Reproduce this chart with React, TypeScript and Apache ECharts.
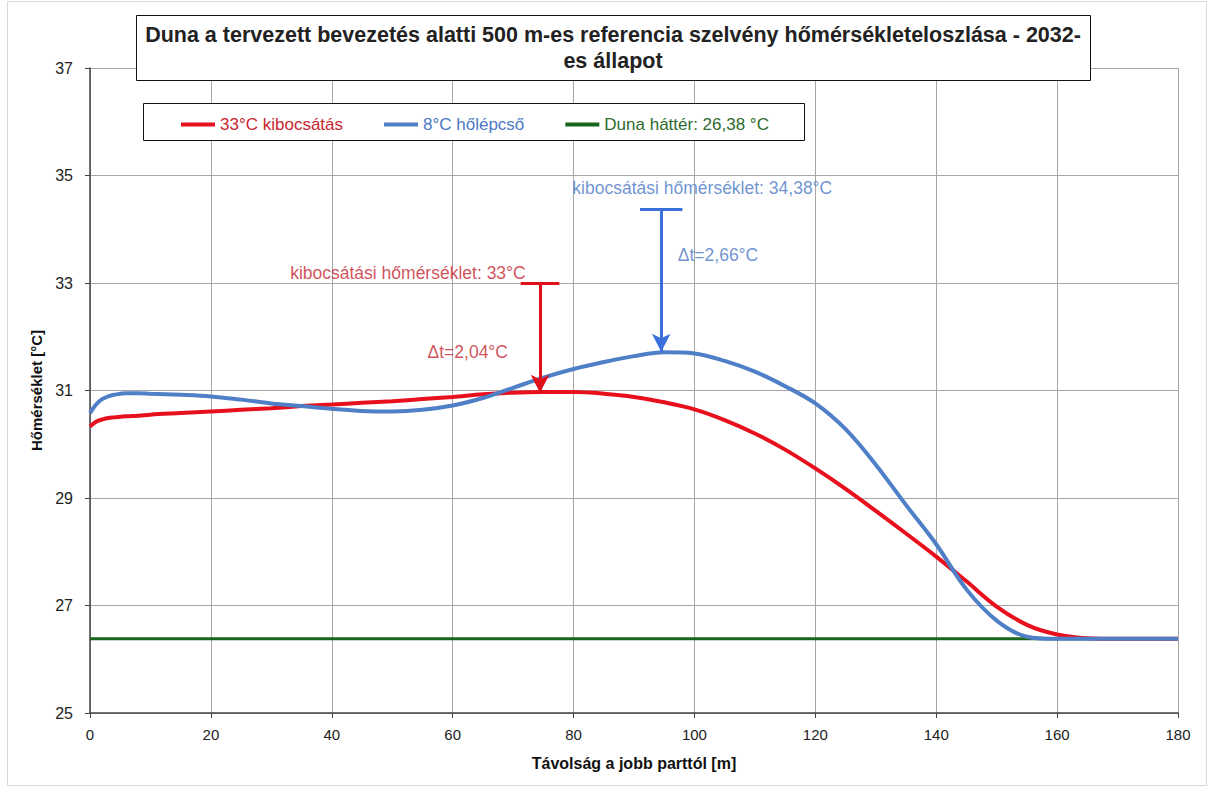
import { useEffect, useRef } from "react";
import * as echarts from "echarts";

// Distance from the right bank [m]
const distances = [
  0, 1, 2, 3, 4, 6, 8, 10, 15, 20, 25, 30, 35, 40, 45, 50, 55, 60, 65, 70, 75,
  80, 85, 90, 95, 100, 105, 110, 115, 120, 125, 130, 135, 140, 145, 150, 155,
  160, 165, 170, 175, 180,
];

// 33 °C discharge temperature profile [°C]
const discharge33 = [
  30.33, 30.42, 30.46, 30.49, 30.5, 30.52, 30.53, 30.55, 30.58, 30.61, 30.64,
  30.67, 30.71, 30.74, 30.77, 30.8, 30.84, 30.88, 30.93, 30.96, 30.97, 30.97,
  30.94, 30.88, 30.78, 30.65, 30.45, 30.2, 29.9, 29.55, 29.17, 28.76, 28.34,
  27.91, 27.45, 26.98, 26.64, 26.46, 26.39, 26.38, 26.38, 26.38,
];

// 8 °C temperature step profile [°C]
const step8 = [
  30.58, 30.74, 30.84, 30.89, 30.92, 30.95, 30.95, 30.94, 30.92, 30.89, 30.83,
  30.76, 30.71, 30.66, 30.62, 30.61, 30.64, 30.72, 30.86, 31.05, 31.24, 31.4,
  31.53, 31.64, 31.71, 31.69, 31.55, 31.35, 31.08, 30.76, 30.28, 29.62, 28.87,
  28.14, 27.3, 26.72, 26.42, 26.38, 26.38, 26.38, 26.38, 26.38,
];

// Danube background temperature [°C]
const backgroundTemp = 26.38;

const yTicks = [25, 27, 29, 31, 33, 35, 37];

// Discharge temperatures and resulting rise at the marked positions
const redOutlet = 33;
const redDelta = 2.04;
const redAt = 74.45;
const blueOutlet = 34.38;
const blueDelta = 2.66;
const blueAt = 94.5;

const RED = "#e8101c";
const BLUE = "#4f7fc6";
const GREEN = "#17661a";
const RED_TEXT = "#c62630";
const BLUE_TEXT = "#4a78c6";
const FONT = "'Liberation Sans', Arial, sans-serif";

const huNum = (v: number) => String(v).replace(".", ",");

export default function App() {
  const ref = useRef<HTMLDivElement>(null);

  useEffect(() => {
    document.body.style.margin = "0";
    const chart = echarts.init(ref.current!, null, { renderer: "svg" });

    const pair = (vals: number[]) => distances.map((d, i) => [d, vals[i]]);

    const arrow = (x: number, top: number, bottom: number, capHalf: number, color: string) => ({
      silent: true,
      animation: false,
      label: { show: false },
      lineStyle: { color, width: 3, type: "solid" },
      data: [
        [
          { coord: [x, top], symbol: "none" },
          { coord: [x, bottom], symbol: "arrow", symbolSize: [14, 18] },
        ],
        [
          { coord: [x - capHalf, top], symbol: "none" },
          { coord: [x + capHalf, top], symbol: "none" },
        ],
      ],
    });

    chart.setOption({
      animation: false,
      textStyle: { fontFamily: FONT },
      grid: { left: 90, right: 39, top: 68, bottom: 79, containLabel: false },
      graphic: [
        {
          type: "rect",
          z: -1,
          shape: { x: 7.5, y: 1.5, width: 1199, height: 784 },
          style: { fill: "none", stroke: "#d9d9d9", lineWidth: 1 },
        },
        {
          type: "rect",
          z: 10,
          shape: { x: 136.5, y: 15.5, width: 954, height: 65 },
          style: { fill: "#fff", stroke: "#111", lineWidth: 1 },
        },
        {
          type: "text",
          z: 11,
          x: 613,
          y: 22,
          style: {
            text: "Duna a tervezett bevezetés alatti 500 m-es referencia szelvény hőmérsékleteloszlása - 2032-\nes állapot",
            align: "center",
            verticalAlign: "top",
            fontFamily: FONT,
            fontWeight: "bold",
            fontSize: 21.5,
            lineHeight: 26,
            fill: "#222",
          },
        },
        {
          type: "rect",
          z: 10,
          shape: { x: 143.5, y: 103.5, width: 661, height: 37 },
          style: { fill: "#fff", stroke: "#111", lineWidth: 1 },
        },
      ],
      legend: {
        z: 20,
        left: 176,
        top: 111,
        itemWidth: 34,
        itemHeight: 4,
        itemGap: 41,
        icon: "rect",
        textStyle: { fontSize: 17, fontFamily: FONT },
        data: [
          { name: "33°C kibocsátás", textStyle: { color: RED_TEXT } },
          { name: "8°C hőlépcső", textStyle: { color: BLUE_TEXT } },
          { name: "Duna háttér: 26,38 °C", textStyle: { color: "#2e6b2e" } },
        ],
      },
      xAxis: {
        type: "value",
        min: 0,
        max: 180,
        interval: 20,
        name: "Távolság a jobb parttól [m]",
        nameLocation: "middle",
        nameGap: 42,
        nameTextStyle: { fontSize: 16, fontWeight: "bold", color: "#111" },
        axisLine: { lineStyle: { color: "#444", width: 1.5 } },
        axisTick: { show: true, length: 5, lineStyle: { color: "#444" } },
        axisLabel: { fontSize: 15, color: "#222", margin: 14 },
        splitLine: { show: true, lineStyle: { color: "#a6a6a6", width: 1 } },
      },
      yAxis: {
        type: "value",
        min: 25,
        max: 37,
        name: "Hőmérséklet [°C]",
        nameLocation: "middle",
        nameGap: 43,
        nameTextStyle: { fontSize: 15, fontWeight: "bold", color: "#111" },
        axisLine: { show: true, lineStyle: { color: "#444", width: 1.5 } },
        axisTick: { show: true, length: 5, customValues: yTicks, lineStyle: { color: "#444" } },
        axisLabel: { fontSize: 16, color: "#222", margin: 17, customValues: yTicks },
        splitLine: { show: true, lineStyle: { color: "#a6a6a6", width: 1 } },
      },
      series: [
        {
          name: "33°C kibocsátás",
          type: "line",
          data: pair(discharge33),
          showSymbol: false,
          smooth: 0.35,
          color: RED,
          lineStyle: { width: 4, color: RED },
          z: 3,
          markLine: arrow(redAt, redOutlet, redOutlet - redDelta, 3.2, "#e0101a"),
        },
        {
          name: "8°C hőlépcső",
          type: "line",
          data: pair(step8),
          showSymbol: false,
          smooth: 0.35,
          color: BLUE,
          lineStyle: { width: 4, color: BLUE },
          z: 4,
          markLine: arrow(blueAt, blueOutlet, blueOutlet - blueDelta, 3.5, "#3a6fdc"),
        },
        {
          name: "Duna háttér: 26,38 °C",
          type: "line",
          data: [
            [0, backgroundTemp],
            [180, backgroundTemp],
          ],
          showSymbol: false,
          color: GREEN,
          lineStyle: { width: 3, color: GREEN },
          z: 2,
        },
        {
          name: "annotations",
          type: "scatter",
          symbolSize: 0,
          silent: true,
          z: 5,
          label: { show: true, fontSize: 17.5, fontFamily: FONT },
          data: [
            {
              value: [52.6, 33.19],
              label: { formatter: `kibocsátási hőmérséklet: ${redOutlet}°C`, color: RED_TEXT },
            },
            {
              value: [62.5, 31.72],
              label: { formatter: `Δt=${huNum(redDelta)}°C`, color: RED_TEXT },
            },
            {
              value: [101.3, 34.77],
              label: { formatter: `kibocsátási hőmérséklet: ${huNum(blueOutlet)}°C`, color: BLUE_TEXT },
            },
            {
              value: [103.9, 33.52],
              label: { formatter: `Δt=${huNum(blueDelta)}°C`, color: BLUE_TEXT },
            },
          ],
        },
      ],
    });

    return () => chart.dispose();
  }, []);

  return <div ref={ref} style={{ width: 1217, height: 792 }} />;
}
